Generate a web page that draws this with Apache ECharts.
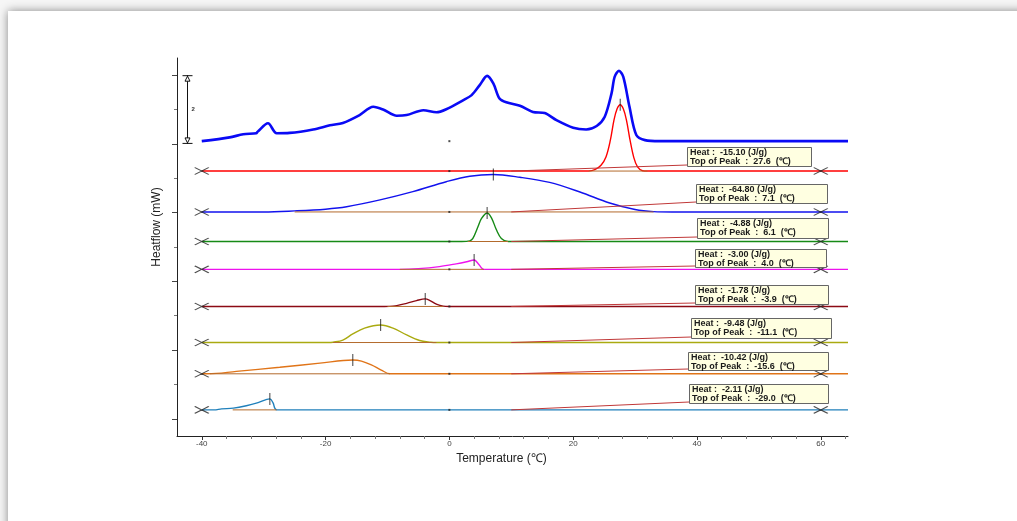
<!DOCTYPE html>
<html><head><meta charset="utf-8">
<script src="https://cdn.jsdelivr.net/npm/echarts@6/dist/echarts.min.js"></script>
<style>
html,body{margin:0;padding:0;width:1017px;height:521px;overflow:hidden;background:#f6f6f6;}
#card{position:absolute;left:8px;top:11px;width:1100px;height:600px;background:#fff;box-shadow:0 0 9px rgba(0,0,0,0.45);}
#c{position:absolute;left:0;top:0;width:1017px;height:521px;}
</style></head>
<body><div id="card"></div><div id="c"></div>
<script>
// ---- data ----
const xTicksMajor = [-40, -20, 0, 20, 40, 60];
const xTicksMinor = [-36, -32, -28, -24, -16, -12, -8, -4, 4, 8, 12, 16, 24, 28, 32, 36, 44, 48, 52, 56, 64];
const yTicksMajor = [0, 2, 4, 6, 8, 10];
const yTicksMinor = [1, 3, 5, 7, 9];

// total DSC curve (temperature, heatflow)
const totalCurve = [
  [-40, 8.08], [-35.5, 8.19], [-33.3, 8.28], [-31.2, 8.31], [-31.0, 8.35], [-29.3, 8.60], [-27.9, 8.31],
  [-25.8, 8.32], [-22.0, 8.42], [-19.3, 8.54], [-17.2, 8.61], [-14.5, 8.84], [-12.3, 9.08], [-10.7, 9.00],
  [-8.5, 8.82], [-6.9, 8.84], [-4.2, 8.98], [-2.1, 8.92], [-0.5, 9.01], [2.2, 9.27], [3.6, 9.42],
  [4.9, 9.71], [6.1, 9.98], [7.1, 9.76], [8.1, 9.32], [9.2, 9.21], [11.4, 9.11], [13.5, 8.93],
  [15.4, 8.90], [17.3, 8.69], [20.0, 8.47], [22.1, 8.42], [23.8, 8.52], [25.1, 8.79], [26.2, 9.47],
  [26.7, 9.95], [27.4, 10.13], [28.1, 9.95], [29.1, 9.08], [30.2, 8.26], [31.6, 8.11], [34, 8.08],
  [40.5, 8.08], [64.4, 8.08]
];

// deconvoluted peaks
const baselines = [7.21, 6.02, 5.16, 4.35, 3.27, 2.22, 1.31, 0.26];
const peakColors = ['#ff0000', '#1212ee', '#168a16', '#ee12ee', '#8c0a14', '#aaaa10', '#e07418', '#2080bb'];
const redPeak = [[22.5, 7.21], [23.5, 7.25], [24.5, 7.38], [25.3, 7.62], [26.0, 8.1], [26.6, 8.7], [27.1, 9.02], [27.6, 9.14], [28.1, 9.02], [28.6, 8.7], [29.2, 8.1], [29.8, 7.6], [30.4, 7.33], [31.2, 7.22], [32, 7.21]];
const bluePeak = [[-30, 6.02], [-25, 6.05], [-20, 6.1], [-16.6, 6.17], [-11.2, 6.37], [-5.9, 6.61], [-0.5, 6.9], [3.3, 7.06], [7.1, 7.11], [11.4, 7.03], [16.2, 6.88], [21.1, 6.6], [25.9, 6.28], [30, 6.09], [33, 6.03], [36, 6.02]];
const greenPeak = [[2, 5.16], [3.3, 5.18], [3.8, 5.25], [4.6, 5.58], [5.2, 5.83], [6.1, 5.99], [6.8, 5.85], [7.6, 5.5], [8.4, 5.25], [9.5, 5.16]];
const magentaPeak = [[-8, 4.35], [-5, 4.37], [-1.6, 4.43], [1.1, 4.51], [2.8, 4.57], [4.0, 4.62], [4.6, 4.53], [5.2, 4.39], [5.6, 4.35]];
const darkredPeak = [[-10.5, 3.27], [-9.1, 3.28], [-6.9, 3.36], [-5.3, 3.44], [-3.9, 3.49], [-3.2, 3.45], [-2.1, 3.34], [-1.0, 3.28], [0, 3.27]];
const olivePeak = [[-19.5, 2.22], [-18.8, 2.23], [-17.2, 2.29], [-15.6, 2.47], [-13.7, 2.64], [-11.1, 2.73], [-9.1, 2.64], [-6.9, 2.44], [-4.8, 2.28], [-3, 2.23], [-2.1, 2.22]];
const orangePeak = [[-39, 1.31], [-34.4, 1.38], [-27.4, 1.50], [-20.9, 1.62], [-15.6, 1.71], [-14.2, 1.68], [-12.6, 1.57], [-11.0, 1.42], [-9.6, 1.31]];
const tealPeak = [[-38, 0.26], [-36.8, 0.29], [-34.9, 0.31], [-32.8, 0.38], [-30.9, 0.47], [-29.0, 0.58], [-28.5, 0.47], [-27.9, 0.26]];
const peakCurves = [redPeak, bluePeak, greenPeak, magentaPeak, darkredPeak, olivePeak, orangePeak, tealPeak];

// integration limits of each peak
const integStart = [22.5, -25, 3, -8, -10, -18.8, -38.7, -35];
const integEnd = [32, 33, 9.5, 5.6, -1, -2.1, -9.6, -27.9];
// peak tops (marked with a tick)
const peakTopT = [27.6, 7.1, 6.1, 4.0, -3.9, -11.1, -15.6, -29.0];
const peakTopY = [9.14, 7.11, 5.99, 4.62, 3.49, 2.73, 1.71, 0.58];
const heatValues = ['-15.10', '-64.80', '-4.88', '-3.00', '-1.78', '-9.48', '-10.42', '-2.11'];
const peakLabels = ['27.6', '7.1', '6.1', '4.0', '-3.9', '-11.1', '-15.6', '-29.0'];
const leaderStartT = [10, 10, 10, 10, 10, 10, 10, 10];
const rangeStart = -40, rangeEnd = 60, plotEnd = 64.4;

// annotation box layout [left, top, width, height] in px
const boxLayout = [[687, 147, 124, 19], [696, 184, 131, 19], [697, 218, 131, 20], [695, 249, 131, 18], [695, 285, 133, 19], [691, 318, 140, 20], [688, 352, 140, 18], [689, 384, 139, 19]];

// ---- chart ----
const series = [];
series.push({
  type: 'line', data: totalCurve, smooth: 0.3, symbol: 'none', z: 4,
  lineStyle: { color: '#0a0af5', width: 2.6 }, xAxisIndex: 0, yAxisIndex: 0
});
peakCurves.forEach((pc, i) => {
  const d = [[rangeStart, baselines[i]]].concat(pc).concat([[plotEnd, baselines[i]]]);
  series.push({
    type: 'line', data: d, smooth: 0.35, symbol: 'none', z: 3,
    lineStyle: { color: peakColors[i], width: 1.4 }
  });
  series.push({
    type: 'line', data: [[integStart[i], baselines[i]], [integEnd[i], baselines[i]]], symbol: 'none', z: 5,
    lineStyle: { color: '#b36a2c', width: 1 }
  });
});
const crossData = [];
baselines.forEach(b => { crossData.push([rangeStart, b]); crossData.push([rangeEnd, b]); });
series.push({
  type: 'scatter', data: crossData, z: 8, silent: true,
  symbol: 'path://M0,0L7,3L0,6M14,0L7,3L14,6', symbolSize: [14, 7],
  itemStyle: { color: 'rgba(0,0,0,0)', borderColor: '#222', borderWidth: 1.2 }
});
series.push({
  type: 'scatter', data: peakTopT.map((t, i) => [t, peakTopY[i]]), z: 8, silent: true,
  symbol: 'rect', symbolSize: [1, 12], itemStyle: { color: '#111' }
});
series.push({
  type: 'scatter', data: [8.08].concat(baselines).map(b => [0, b]), z: 8, silent: true,
  symbol: 'rect', symbolSize: [2, 2], itemStyle: { color: '#222' }
});

const option = {
  animation: false,
  grid: { left: 177, right: 169, top: 58, bottom: 85, containLabel: false },
  xAxis: [{
    type: 'value', min: -44, max: plotEnd,
    name: 'Temperature (℃)', nameLocation: 'middle', nameGap: 6,
    nameTextStyle: { fontFamily: 'Liberation Sans, Arial', fontSize: 12, color: '#222', padding: [0, 22, 0, 0] },
    axisLine: { onZero: false, lineStyle: { color: '#222', width: 1 } },
    axisTick: { show: true, length: 4, customValues: xTicksMajor, lineStyle: { color: '#333' } },
    axisLabel: { customValues: xTicksMajor, fontSize: 8, color: '#444', margin: 4, fontFamily: 'Liberation Sans, Arial' },
    splitLine: { show: false }
  }, {
    type: 'value', min: -44, max: plotEnd, position: 'bottom',
    axisLine: { show: false, onZero: false },
    axisTick: { show: true, length: 3, customValues: xTicksMinor, lineStyle: { color: '#777' } },
    axisLabel: { show: false }, splitLine: { show: false }
  }],
  yAxis: [{
    type: 'value', min: -0.5, max: 10.5, position: 'left',
    name: 'Heatflow (mW)', nameLocation: 'middle', nameGap: 14,
    nameTextStyle: { fontFamily: 'Liberation Sans, Arial', fontSize: 12, color: '#222', padding: [0, 0, 0, 40] },
    axisLine: { show: true, onZero: false, lineStyle: { color: '#222', width: 1 } },
    axisTick: { show: true, length: 5, customValues: yTicksMajor, lineStyle: { color: '#444' } },
    axisLabel: { show: false }, splitLine: { show: false }
  }, {
    type: 'value', min: -0.5, max: 10.5, position: 'left',
    axisLine: { show: false, onZero: false },
    axisTick: { show: true, length: 3, customValues: yTicksMinor, lineStyle: { color: '#777' } },
    axisLabel: { show: false }, splitLine: { show: false }
  }],
  series: series
};

const chart = echarts.init(document.getElementById('c'), null, { renderer: 'canvas' });
chart.setOption(option);

// annotations
const g = [];
const conv = (p) => chart.convertToPixel({ gridIndex: 0 }, p);
// scale bar: 2 mW
const sTop = conv([-44, 10])[1], sBot = conv([-44, 8])[1];
const sx = 187.5;
g.push({ type: 'line', shape: { x1: sx, y1: sTop, x2: sx, y2: sBot }, style: { stroke: '#111', lineWidth: 1 }, z: 50 });
g.push({ type: 'line', shape: { x1: sx - 5, y1: sTop + 0.5, x2: sx + 5, y2: sTop + 0.5 }, style: { stroke: '#111', lineWidth: 1 }, z: 50 });
g.push({ type: 'line', shape: { x1: sx - 5, y1: sBot - 0.5, x2: sx + 5, y2: sBot - 0.5 }, style: { stroke: '#111', lineWidth: 1 }, z: 50 });
g.push({ type: 'polygon', shape: { points: [[sx, sTop + 1], [sx - 2.5, sTop + 6], [sx + 2.5, sTop + 6]] }, style: { fill: '#fff', stroke: '#111', lineWidth: 1 }, z: 50 });
g.push({ type: 'polygon', shape: { points: [[sx, sBot - 1], [sx - 2.5, sBot - 6], [sx + 2.5, sBot - 6]] }, style: { fill: '#fff', stroke: '#111', lineWidth: 1 }, z: 50 });
g.push({ type: 'text', x: sx + 4, y: (sTop + sBot) / 2, style: { text: '2', font: 'bold 6px "Liberation Sans", Arial', fill: '#333', verticalAlign: 'middle' }, z: 50 });

boxLayout.forEach((b, i) => {
  const s = conv([leaderStartT[i], baselines[i]]);
  g.push({ type: 'line', shape: { x1: s[0], y1: s[1], x2: b[0], y2: b[1] + b[3] - 1 }, style: { stroke: '#c03838', lineWidth: 1 }, z: 40 });
  g.push({ type: 'rect', shape: { x: b[0] + 0.5, y: b[1] + 0.5, width: b[2], height: b[3] }, style: { fill: '#ffffe1', stroke: '#666', lineWidth: 1 }, z: 60 });
  g.push({
    type: 'text', x: b[0] + 3, y: b[1] + 1,
    style: {
      text: 'Heat :  ' + heatValues[i] + ' (J/g)\nTop of Peak  :  ' + peakLabels[i] + '  (℃)',
      font: 'bold 9px "Liberation Sans", Arial', fill: '#1a1a1a', lineHeight: 9, verticalAlign: 'top'
    }, z: 61
  });
});
chart.setOption({ graphic: { elements: g } });
</script>
</body></html>
